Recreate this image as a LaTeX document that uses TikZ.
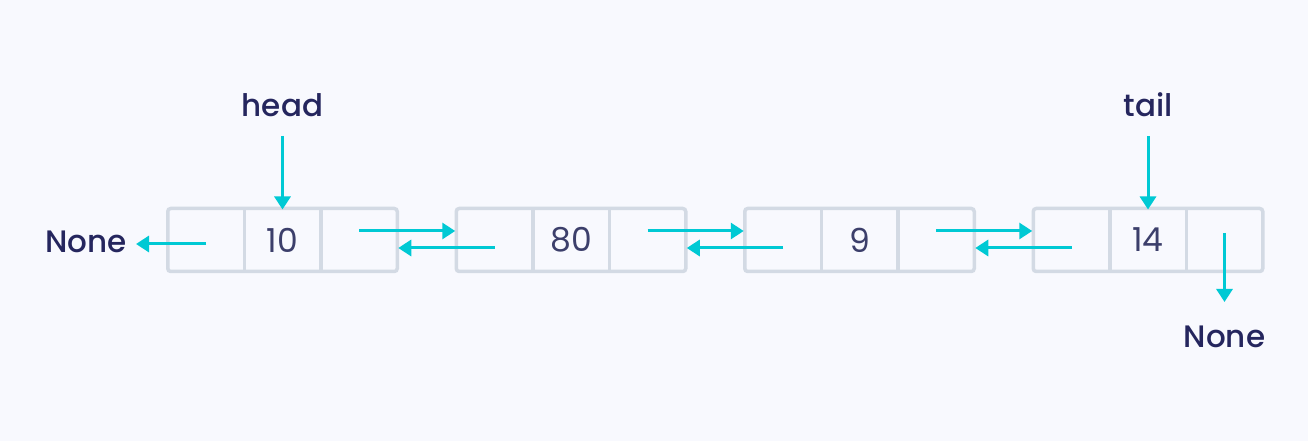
\documentclass[tikz,border=0pt]{standalone}
\usepackage{fontspec}
\setmainfont{Poppins}
\newfontfamily\labelfont{Poppins Medium}
\usetikzlibrary{positioning,arrows.meta}
\definecolor{bgcol}{HTML}{F8F9FE}
\definecolor{cellcol}{HTML}{D3DAE4}
\definecolor{linkcol}{HTML}{00C9D4}
\definecolor{textcol}{HTML}{25265E}
\definecolor{numcol}{HTML}{3C3F6B}
\tikzset{
  cell/.style={minimum width=76.5pt,minimum height=63pt,inner sep=0pt,outer sep=0pt,
    text=numcol,font=\fontsize{33}{35}\selectfont},
  box/.style={draw=cellcol,line width=3.5pt,rounded corners=3pt},
  link/.style={draw=linkcol,line width=3pt,-{Triangle[width=16pt,length=13pt]}},
  lbl/.style={text=textcol,font=\labelfont\fontsize{31}{33}\selectfont,inner sep=0pt}
}
\begin{document}
\begin{tikzpicture}[x=1pt,y=1pt]
  \useasboundingbox[fill=bgcol] (0,0) rectangle (1308,441);
  % the four list nodes: prev | data | next
  \foreach \val [count=\i] in {10,80,9,14} {
    \node[cell] (d\i) at ({282.5+288.5*(\i-1)},201) {\val};
    \node[cell,left=0pt of d\i] (p\i) {};
    \node[cell,right=0pt of d\i] (n\i) {};
    \draw[box] (p\i.north west) rectangle (n\i.south east);
    \draw[box] (d\i.north west) -- (d\i.south west) (d\i.north east) -- (d\i.south east);
  }
  % next and prev links
  \foreach \i/\j in {1/2,2/3,3/4} {
    \draw[link] ([yshift=9pt]n\i.center) -- ([xshift=-1pt,yshift=9pt]p\j.west);
    \draw[link] ([yshift=-8pt]p\j.center) -- ([xshift=1pt,yshift=-8pt]n\i.east);
  }
  % head and tail
  \node[lbl] (head) at (d1 |- 0,336) {head};
  \node[lbl] (tail) at (d4 |- 0,336) {tail};
  \draw[link] ([yshift=-19pt]head.south) -- ([yshift=-1pt]d1.north);
  \draw[link] ([yshift=-19pt]tail.south) -- ([yshift=-1pt]d4.north);
  % None at both ends
  \node[lbl] (nonel) at ([xshift=-120pt,yshift=-2pt]p1.center) {None};
  \node[lbl] (noner) at ([yshift=-97pt]n4.center) {None};
  \coordinate (endl) at ([xshift=-70pt,yshift=-4pt]p1.center);
  \coordinate (endr) at ([yshift=-62pt]n4.center);
  \draw[link] ([yshift=-4pt]p1.center) -- (endl);
  \draw[link] ([yshift=7pt]n4.center) -- (endr);
\end{tikzpicture}
\end{document}
